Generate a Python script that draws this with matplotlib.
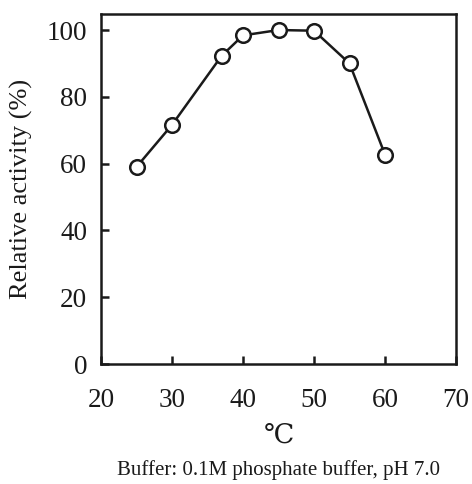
import matplotlib
matplotlib.use("Agg")
import matplotlib.pyplot as plt

temperature = [25, 30, 37, 40, 45, 50, 55, 60]
relative_activity = [59.0, 71.6, 92.3, 98.4, 100.0, 99.8, 90.0, 62.7]
x_ticks = [20, 30, 40, 50, 60, 70]
y_ticks = [0, 20, 40, 60, 80, 100]

plt.rcParams['font.family'] = ['Liberation Serif', 'DejaVu Serif']

fig = plt.figure(figsize=(4.72, 4.84), dpi=100)
ax = fig.add_axes([101/472, 1 - 364/484, 355/472, 350/484])

ax.plot(temperature, relative_activity, color='#1a1a1a', linewidth=1.8,
        marker='o', markersize=10.5, markerfacecolor='white',
        markeredgecolor='#1a1a1a', markeredgewidth=1.8, clip_on=False)

ax.set_xlim(20, 70)
ax.set_ylim(0, 104.8)
ax.set_xticks(x_ticks)
ax.set_yticks(y_ticks)
ax.tick_params(direction='in', length=6, width=1.8, labelsize=19.5,
               colors='#1a1a1a')
ax.tick_params(axis='y', pad=10)
ax.tick_params(axis='x', pad=17)
for s in ax.spines.values():
    s.set_linewidth(1.8)
    s.set_color('#1a1a1a')

ax.set_ylabel('Relative activity (%)', fontsize=19, color='#1a1a1a', labelpad=10)
ax.set_xlabel('℃', fontsize=19.5, color='#1a1a1a', labelpad=8)

fig.text((101 + 456) / 2 / 472, 1 - 470 / 484,
         'Buffer: 0.1M phosphate buffer, pH 7.0',
         ha='center', va='center', fontsize=15, color='#1a1a1a')

fig.savefig('out.png', dpi=100)
